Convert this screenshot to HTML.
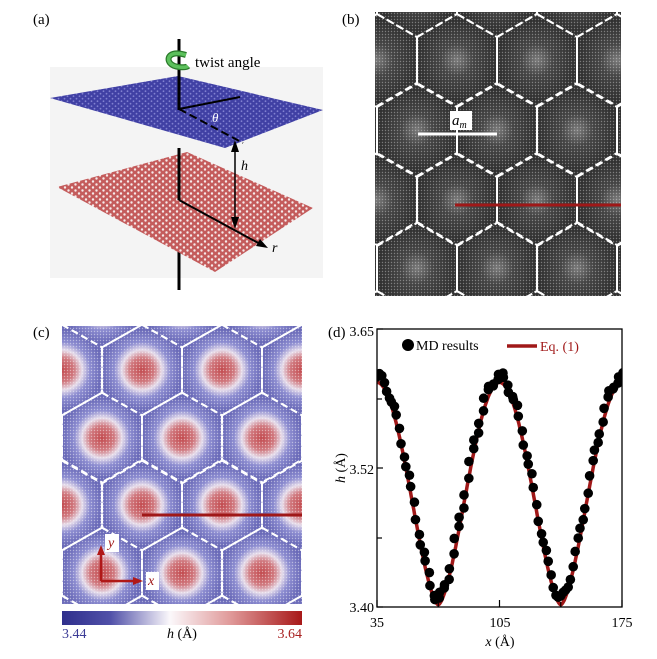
<!DOCTYPE html>
<html><head><meta charset="utf-8"><style>
html,body{margin:0;padding:0;background:#fff;width:657px;height:659px;overflow:hidden;}
svg{display:block;font-family:"Liberation Serif",serif;}
</style></head><body>
<svg id="s" width="657" height="659" viewBox="0 0 657 659" xmlns="http://www.w3.org/2000/svg">
<defs>
<pattern id="dotsW" width="3" height="3" patternUnits="userSpaceOnUse"><circle cx="1.5" cy="1.5" r="0.7" fill="#fff" opacity="0.45"/></pattern>
<pattern id="dotsB" width="3" height="3" patternUnits="userSpaceOnUse"><circle cx="1.5" cy="1.5" r="0.7" fill="#fff" opacity="0.35"/></pattern>
<radialGradient id="gc"><stop offset="0" stop-color="#c24a4e"/><stop offset="0.3" stop-color="#d0787e"/><stop offset="0.5" stop-color="#e6dcea"/><stop offset="0.7" stop-color="#8c8cd0"/><stop offset="1" stop-color="#6a6ab8"/></radialGradient>
<radialGradient id="gb"><stop offset="0" stop-color="#7a7a7a"/><stop offset="0.4" stop-color="#454545"/><stop offset="1" stop-color="#303030"/></radialGradient>
<linearGradient id="cb" x1="0" x2="1"><stop offset="0" stop-color="#2f2f8c"/><stop offset="0.2" stop-color="#5050a8"/><stop offset="0.45" stop-color="#fbf8fb"/><stop offset="0.7" stop-color="#e09a9a"/><stop offset="1" stop-color="#a81818"/></linearGradient>
<pattern id="hexB" width="6" height="5" patternUnits="userSpaceOnUse"><rect width="6" height="5" fill="#4040a4"/><circle cx="1.5" cy="1.2" r="0.9" fill="#8080d0"/><circle cx="4.5" cy="3.7" r="0.9" fill="#8080d0"/></pattern>
<pattern id="hexR" width="7" height="6" patternUnits="userSpaceOnUse"><rect width="7" height="6" fill="#c45c5c"/><circle cx="2" cy="1.5" r="1.2" fill="#f6eaea"/><circle cx="5.5" cy="4.5" r="1.2" fill="#f6eaea"/></pattern>
<clipPath id="cpb"><rect x="375" y="12" width="246" height="284"/></clipPath>
<clipPath id="cpc"><rect x="62" y="326" width="240" height="278"/></clipPath>
<clipPath id="cpd"><rect x="377" y="329" width="245" height="278"/></clipPath>
</defs>

<text x="33" y="24" font-size="15">(a)</text>
<rect x="50" y="67" width="273" height="211" fill="#f4f4f4"/>
<line x1="179" y1="200" x2="179" y2="290" stroke="#000" stroke-width="3"/>
<polygon points="57,187 187,152 313,208 215,272" fill="url(#hexR)"/>
<line x1="179" y1="148" x2="179" y2="200" stroke="#000" stroke-width="3"/>
<line x1="179" y1="200" x2="262" y2="245" stroke="#000" stroke-width="2"/>
<polygon points="268,248 256,246 260,239" fill="#000"/>
<text x="272" y="252" font-size="14" font-style="italic">r</text>
<polygon points="50,98 178,76 323,110 225,148" fill="url(#hexB)"/>
<line x1="179" y1="39" x2="179" y2="110" stroke="#000" stroke-width="3"/>
<line x1="179" y1="109" x2="240" y2="97" stroke="#000" stroke-width="2"/>
<line x1="179" y1="109" x2="243" y2="143" stroke="#000" stroke-width="2" stroke-dasharray="8,4"/>
<text x="212" y="122" font-size="13" font-style="italic" fill="#fff">θ</text>
<line x1="235" y1="148" x2="235" y2="222" stroke="#000" stroke-width="1.5"/>
<polygon points="235,140 231,152 239,152" fill="#000"/>
<polygon points="235,229 231,217 239,217" fill="#000"/>
<text x="241" y="170" font-size="14" font-style="italic">h</text>
<path d="M186,55 C170,50 166,58 170,63 C174,68 186,68 188,66" fill="none" stroke="#2a7a2a" stroke-width="6"/>
<path d="M186,55 C170,50 166,58 170,63 C174,68 186,68 188,66" fill="none" stroke="#5cc05c" stroke-width="3.5"/>
<text x="195" y="67" font-size="15">twist angle</text>

<text x="342" y="24" font-size="15">(b)</text>
<g id="gb_" clip-path="url(#cpb)"></g>

<text x="33" y="337" font-size="15">(c)</text>
<g id="gc_" clip-path="url(#cpc)"></g>
<rect x="62" y="611" width="240" height="14" fill="url(#cb)"/>
<text x="62" y="638" font-size="14" fill="#3c3c96">3.44</text>
<text x="182" y="638" font-size="14" text-anchor="middle"><tspan font-style="italic">h</tspan> (Å)</text>
<text x="302" y="638" font-size="14" fill="#a82020" text-anchor="end">3.64</text>

<text x="328" y="337" font-size="15">(d)</text>
<g id="gd_"></g>
</svg>
<script>
var NS="http://www.w3.org/2000/svg";
function el(p,t,a,txt){var e=document.createElementNS(NS,t);for(var k in a)e.setAttribute(k,a[k]);if(txt!==undefined)e.textContent=txt;p.appendChild(e);return e;}
function hexPts(cx,cy,w,s){var h=w/2;return [[cx,cy-s],[cx+h,cy-s/2],[cx+h,cy+s/2],[cx,cy+s],[cx-h,cy+s/2],[cx-h,cy-s/2]];}
function lattice(g,rows,dy,fill,bg,dots,xmin,xmax,ymin,ymax){
  var w=80,s=46;
  el(g,'rect',{x:xmin,y:ymin,width:xmax-xmin,height:ymax-ymin,fill:bg});
  var hexes=[];
  rows.forEach(function(r){for(var cx=r[1]-160;cx<=xmax+80;cx+=80){hexes.push([cx,r[0]]);}});
  hexes.forEach(function(h){el(g,'circle',{cx:h[0],cy:h[1],r:40,fill:fill});});
  el(g,'rect',{x:xmin,y:ymin,width:xmax-xmin,height:ymax-ymin,fill:dots});
  hexes.forEach(function(h){var p=hexPts(h[0],h[1],w,s*dy/69);
    el(g,'polygon',{points:p.map(function(q){return q.join(',')}).join(' '),fill:'none',stroke:'#fff','stroke-width':2,'stroke-dasharray':'7,4'});});
}
var gb=document.getElementById('gb_');
lattice(gb,[[-9,417],[60,377],[130,417],[200,377],[268,417],[337,377]],69,'url(#gb)','#303030','url(#dotsB)',375,621,12,296);
el(gb,'line',{x1:418,y1:134,x2:497,y2:134,stroke:'#fff','stroke-width':3});
el(gb,'rect',{x:450,y:111,width:22,height:19,fill:'#fff'});
var t=el(gb,'text',{x:452,y:125,'font-size':15,'font-style':'italic'},'a');
el(t,'tspan',{'font-size':10,dy:3},'m');
el(gb,'line',{x1:455,y1:205,x2:621,y2:205,stroke:'#a01818','stroke-width':3});
var gc=document.getElementById('gc_');
lattice(gc,[[302,102],[370,62],[438,102],[505,62],[573,102],[641,62]],68,'url(#gc)','#6a6ab8','url(#dotsW)',62,302,326,604);
el(gc,'line',{x1:142,y1:515,x2:302,y2:515,stroke:'#a01818','stroke-width':3});
el(gc,'rect',{x:105,y:534,width:14,height:18,fill:'#fff'});
el(gc,'text',{x:108,y:547,'font-size':14,'font-style':'italic',fill:'#a01818'},'y');
el(gc,'rect',{x:146,y:572,width:13,height:18,fill:'#fff'});
el(gc,'text',{x:148,y:585,'font-size':14,'font-style':'italic',fill:'#a01818'},'x');
el(gc,'line',{x1:101,y1:581,x2:101,y2:552,stroke:'#b01818','stroke-width':2.5});
el(gc,'polygon',{points:'101,545 97,555 105,555',fill:'#b01818'});
el(gc,'line',{x1:101,y1:581,x2:136,y2:581,stroke:'#b01818','stroke-width':2.5});
el(gc,'polygon',{points:'143,581 133,577 133,585',fill:'#b01818'});
var gd=document.getElementById('gd_');
function X(x){return 377+(x-35)/140*245;}
function Y(h){return 607-(h-3.40)/0.25*278;}
function f(x){var c=(1+Math.cos((x-35)/70*2*Math.PI))/2;return 3.402+0.2*Math.pow(c,0.8);}
var cl=el(gd,'g',{'clip-path':'url(#cpd)'});
var d='';for(var x=35;x<=175.01;x+=0.5){d+=(x==35?'M':'L')+X(x).toFixed(1)+','+Y(f(x)).toFixed(1);}
el(cl,'path',{d:d,fill:'none',stroke:'#a01818','stroke-width':3.5});
for(var i=0;i<=100;i++){var x=35+i*1.4;var j=Math.sin(i*7.3)*0.004;
  el(cl,'circle',{cx:X(x)+Math.sin(i*3.1)*1.2,cy:Y(f(x)+0.005+j),r:4.8,fill:'#000'});}
el(gd,'rect',{x:377,y:329,width:245,height:278,fill:'none',stroke:'#000','stroke-width':1.3});
[[35,''],[70,'m'],[105,''],[140,'m'],[175,'']].forEach(function(a){var xx=X(a[0]);el(gd,'line',{x1:xx,y1:607,x2:xx,y2:a[1]?602:600,stroke:'#000','stroke-width':1.2});});
[[607,6],[538,5],[468,6],[399,5],[329,6]].forEach(function(a){el(gd,'line',{x1:377,y1:a[0],x2:377+a[1],y2:a[0],stroke:'#000','stroke-width':1.2});});
el(gd,'text',{x:374,y:336,'font-size':14,'text-anchor':'end'},'3.65');
el(gd,'text',{x:374,y:474,'font-size':14,'text-anchor':'end'},'3.52');
el(gd,'text',{x:374,y:612,'font-size':14,'text-anchor':'end'},'3.40');
el(gd,'text',{x:377,y:627,'font-size':14,'text-anchor':'middle'},'35');
el(gd,'text',{x:500,y:627,'font-size':14,'text-anchor':'middle'},'105');
el(gd,'text',{x:622,y:627,'font-size':14,'text-anchor':'middle'},'175');
var xl=el(gd,'text',{x:500,y:646,'font-size':14,'text-anchor':'middle'});el(xl,'tspan',{'font-style':'italic'},'x');el(xl,'tspan',{},' (Å)');
var yl=el(gd,'text',{x:0,y:0,'font-size':14,'text-anchor':'middle',transform:'translate(345,468) rotate(-90)'});el(yl,'tspan',{'font-style':'italic'},'h');el(yl,'tspan',{},' (Å)');
el(gd,'circle',{cx:408,cy:345,r:6,fill:'#000'});
el(gd,'text',{x:416,y:350,'font-size':14},'MD results');
el(gd,'line',{x1:507,y1:346,x2:537,y2:346,stroke:'#a01818','stroke-width':3.5});
el(gd,'text',{x:540,y:351,'font-size':14,fill:'#a01818'},'Eq. (1)');
</script>
</body></html>
